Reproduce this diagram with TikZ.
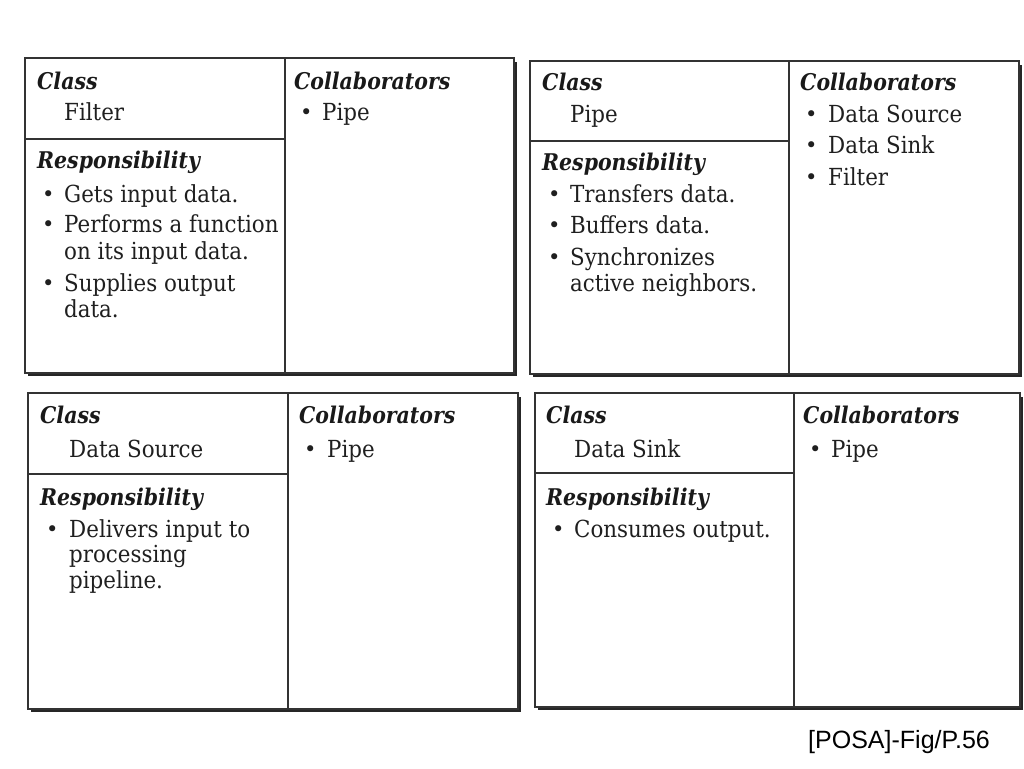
\documentclass[tikz,border=0pt]{standalone}
\usepackage{fontspec}
\setmainfont{DejaVu Serif}[FakeStretch=0.91]
\newfontfamily\hdrfont{DejaVu Serif}[FakeStretch=0.89]
\newfontfamily\bulfont{DejaVu Serif}
\newfontfamily\capfont{Liberation Sans}
\begin{document}
\begin{tikzpicture}[x=1pt,y=-1pt,
  cardline/.style={draw=black!80,line width=1.6pt},
  shadowline/.style={draw=black!85,line width=3pt},
  hdr/.style={anchor=base west,inner sep=0pt,font=\hdrfont\bfseries\itshape\fontsize{23}{27}\selectfont,text=black!90},
  body/.style={anchor=base west,inner sep=0pt,font=\fontsize{23.5}{28}\selectfont,text=black!88},
  bul/.style={anchor=base west,inner sep=0pt,font=\bulfont\fontsize{21}{24}\selectfont,text=black!88},
  foot/.style={anchor=base east,inner sep=0pt,font=\capfont\fontsize{25}{29}\selectfont,text=black}]
\useasboundingbox[fill=white] (0,0) rectangle (1024,768);
% card frames: L T R B V H
\newcommand\crcframe[6]{%
  \draw[shadowline] (#1+3,#4+1.5) -- (#3+1.5,#4+1.5) -- (#3+1.5,#2+4);
  \draw[cardline] (#1,#2) rectangle (#3,#4);
  \draw[cardline] (#5,#2) -- (#5,#4);
  \draw[cardline] (#1,#6) -- (#5,#6);}
\crcframe{25}{58}{514}{373}{285}{139}
\crcframe{530}{61}{1019}{374}{789}{141}
\crcframe{28}{393}{518}{709}{288}{474}
\crcframe{535}{393}{1020}{707}{794}{473}
% Card 1: Filter
\node[hdr] (c1class) at (37,89) {Class};
\node[body] (c1name) at (64,120) {Filter};
\node[hdr] (c1resp) at (37,168) {Responsibility};
\node[bul] (c1b1) at (42,201) {•};
\node[body] (c1r1) at (64,202) {Gets input data.};
\node[bul] (c1b2) at (42,231) {•};
\node[body] (c1r2) at (64,232) {Performs a function};
\node[body] (c1r2b) at (64,259) {on its input data.};
\node[bul] (c1b3) at (42,290) {•};
\node[body] (c1r3) at (64,291) {Supplies output};
\node[body] (c1r3b) at (64,317) {data.};
\node[hdr] (c1coll) at (294,89) {Collaborators};
\node[bul] (c1cb1) at (300,119) {•};
\node[body] (c1c1) at (322,120) {Pipe};
% Card 2: Pipe
\node[hdr] (c2class) at (542,90) {Class};
\node[body] (c2name) at (570,122) {Pipe};
\node[hdr] (c2resp) at (542,170) {Responsibility};
\node[bul] (c2b1) at (548,201) {•};
\node[body] (c2r1) at (570,202) {Transfers data.};
\node[bul] (c2b2) at (548,232) {•};
\node[body] (c2r2) at (570,233) {Buffers data.};
\node[bul] (c2b3) at (548,264) {•};
\node[body] (c2r3) at (570,265) {Synchronizes};
\node[body] (c2r3b) at (570,291) {active neighbors.};
\node[hdr] (c2coll) at (800,90) {Collaborators};
\node[bul] (c2cb1) at (805,121) {•};
\node[body] (c2c1) at (828,122) {Data Source};
\node[bul] (c2cb2) at (805,152) {•};
\node[body] (c2c2) at (828,153) {Data Sink};
\node[bul] (c2cb3) at (805,184) {•};
\node[body] (c2c3) at (828,185) {Filter};
% Card 3: Data Source
\node[hdr] (c3class) at (40,423) {Class};
\node[body] (c3name) at (69,457) {Data Source};
\node[hdr] (c3resp) at (40,505) {Responsibility};
\node[bul] (c3b1) at (46,536) {•};
\node[body] (c3r1) at (69,537) {Delivers input to};
\node[body] (c3r1b) at (69,562) {processing};
\node[body] (c3r1c) at (69,588) {pipeline.};
\node[hdr] (c3coll) at (299,423) {Collaborators};
\node[bul] (c3cb1) at (304,456) {•};
\node[body] (c3c1) at (327,457) {Pipe};
% Card 4: Data Sink
\node[hdr] (c4class) at (546,423) {Class};
\node[body] (c4name) at (574,457) {Data Sink};
\node[hdr] (c4resp) at (546,505) {Responsibility};
\node[bul] (c4b1) at (552,536) {•};
\node[body] (c4r1) at (574,537) {Consumes output.};
\node[hdr] (c4coll) at (803,423) {Collaborators};
\node[bul] (c4cb1) at (809,456) {•};
\node[body] (c4c1) at (831,457) {Pipe};
% caption
\node[foot] (cap) at (990,748) {[POSA]-Fig/P.56};
\end{tikzpicture}
\end{document}
